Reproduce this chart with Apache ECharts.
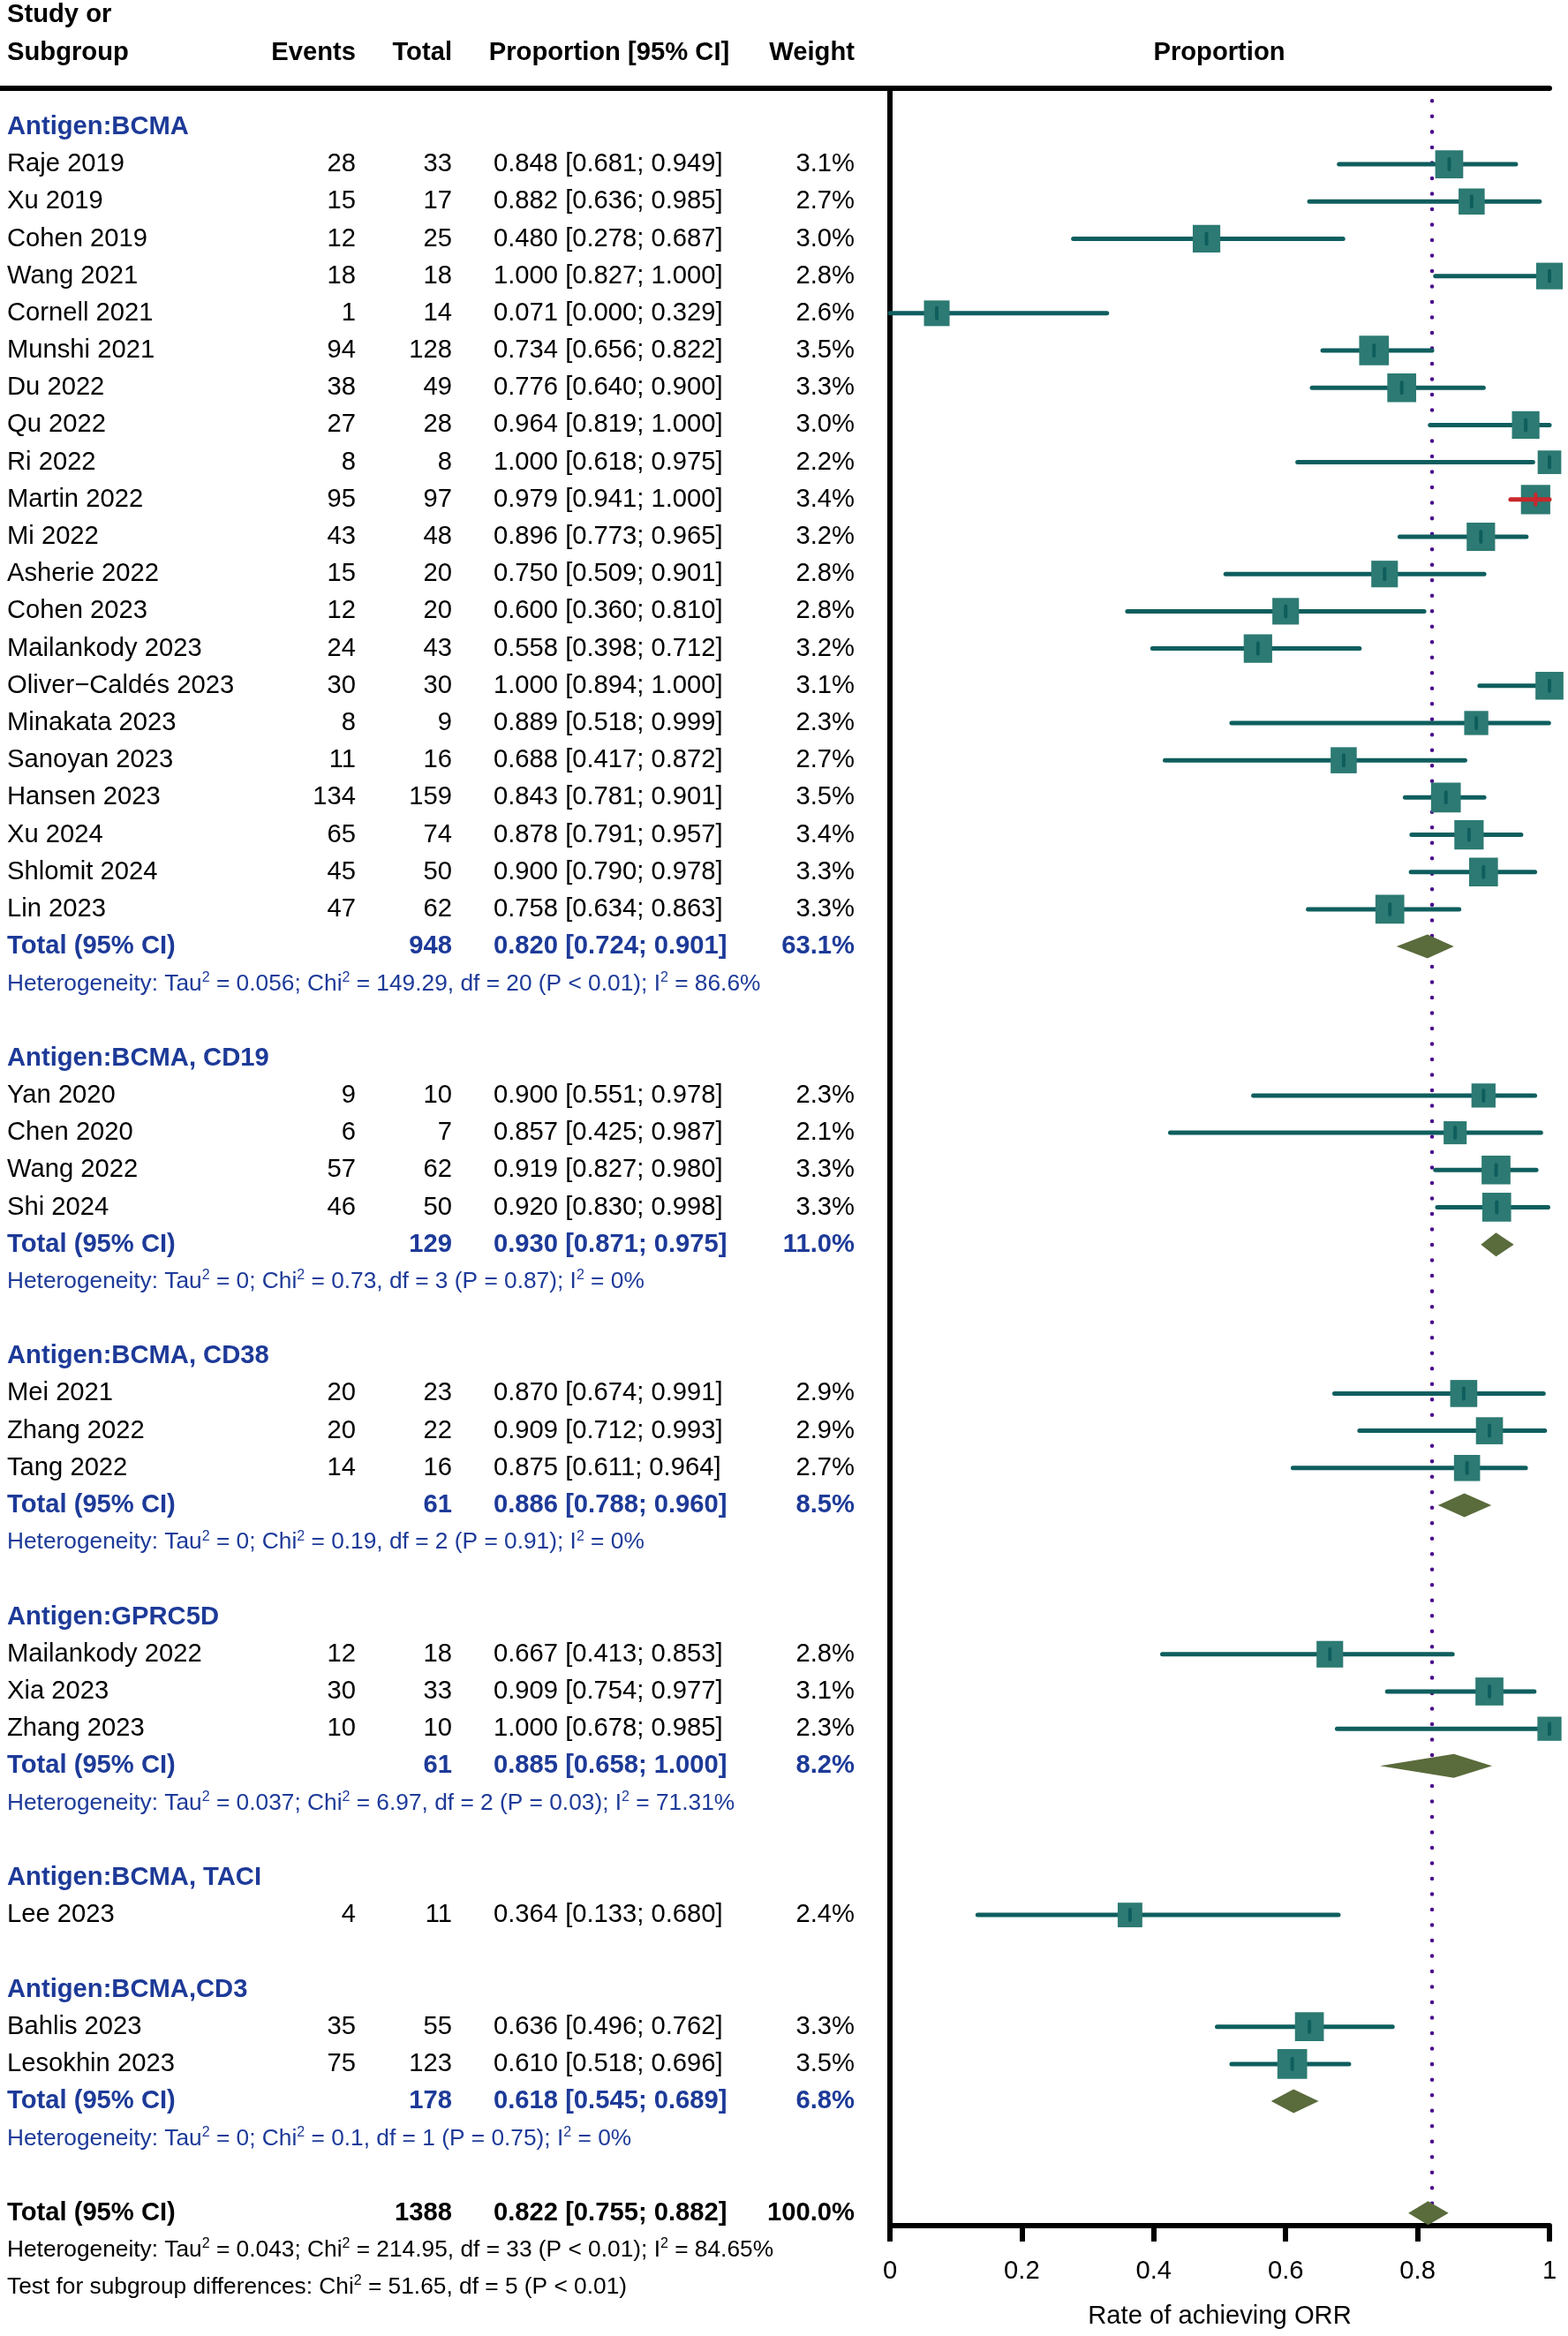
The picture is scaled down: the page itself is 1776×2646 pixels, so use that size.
<!DOCTYPE html>
<html><head><meta charset="utf-8">
<script src="https://cdn.jsdelivr.net/npm/echarts@6/dist/echarts.min.js"></script>
<style>html,body{margin:0;padding:0;background:#fff}#c{width:1776px;height:2646px}</style>
</head><body><div id="c"></div>
<script>
// ---------------- DATA ----------------
const groupNames = ['Antigen:BCMA', 'Antigen:BCMA, CD19', 'Antigen:BCMA, CD38', 'Antigen:GPRC5D', 'Antigen:BCMA, TACI', 'Antigen:BCMA,CD3'];

const studyNames = ['Raje 2019','Xu 2019','Cohen 2019','Wang 2021','Cornell 2021','Munshi 2021','Du 2022','Qu 2022','Ri 2022','Martin 2022','Mi 2022','Asherie 2022','Cohen 2023','Mailankody 2023','Oliver\u2212Caldés 2023','Minakata 2023','Sanoyan 2023','Hansen 2023','Xu 2024','Shlomit 2024','Lin 2023',
  'Yan 2020','Chen 2020','Wang 2022','Shi 2024',
  'Mei 2021','Zhang 2022','Tang 2022',
  'Mailankody 2022','Xia 2023','Zhang 2023',
  'Lee 2023',
  'Bahlis 2023','Lesokhin 2023'];
const studyGroup = [0,0,0,0,0,0,0,0,0,0,0,0,0,0,0,0,0,0,0,0,0, 1,1,1,1, 2,2,2, 3,3,3, 4, 5,5];
const studyEvents = [28,15,12,18,1,94,38,27,8,95,43,15,12,24,30,8,11,134,65,45,47, 9,6,57,46, 20,20,14, 12,30,10, 4, 35,75];
const studyTotal  = [33,17,25,18,14,128,49,28,8,97,48,20,20,43,30,9,16,159,74,50,62, 10,7,62,50, 23,22,16, 18,33,10, 11, 55,123];
const studyProp   = [0.848,0.882,0.480,1.000,0.071,0.734,0.776,0.964,1.000,0.979,0.896,0.750,0.600,0.558,1.000,0.889,0.688,0.843,0.878,0.900,0.758, 0.900,0.857,0.919,0.920, 0.870,0.909,0.875, 0.667,0.909,1.000, 0.364, 0.636,0.610];
const studyLower  = [0.681,0.636,0.278,0.827,0.000,0.656,0.640,0.819,0.618,0.941,0.773,0.509,0.360,0.398,0.894,0.518,0.417,0.781,0.791,0.790,0.634, 0.551,0.425,0.827,0.830, 0.674,0.712,0.611, 0.413,0.754,0.678, 0.133, 0.496,0.518];
const studyUpper  = [0.949,0.985,0.687,1.000,0.329,0.822,0.900,1.000,0.975,1.000,0.965,0.901,0.810,0.712,1.000,0.999,0.872,0.901,0.957,0.978,0.863, 0.978,0.987,0.980,0.998, 0.991,0.993,0.964, 0.853,0.977,0.985, 0.680, 0.762,0.696];
const studyWeight = [3.1,2.7,3.0,2.8,2.6,3.5,3.3,3.0,2.2,3.4,3.2,2.8,2.8,3.2,3.1,2.3,2.7,3.5,3.4,3.3,3.3, 2.3,2.1,3.3,3.3, 2.9,2.9,2.7, 2.8,3.1,2.3, 2.4, 3.3,3.5];

const groupTotalN  = [948, 129, 61, 61, null, 178];
const groupProp    = [0.820, 0.930, 0.886, 0.885, null, 0.618];
const groupLower   = [0.724, 0.871, 0.788, 0.658, null, 0.545];
const groupUpper   = [0.901, 0.975, 0.960, 1.000, null, 0.689];
const groupWeight  = [63.1, 11.0, 8.5, 8.2, null, 6.8];
// diamond extents as drawn in the figure
const diamondLow   = [0.768, 0.896, 0.831, 0.743, null, 0.578];
const diamondMid   = [0.815, 0.919, 0.871, 0.855, null, 0.612];
const diamondHigh  = [0.855, 0.946, 0.912, 0.913, null, 0.650];
const groupHet = [
  'Heterogeneity: Tau² = 0.056; Chi² = 149.29, df = 20 (P < 0.01); I² = 86.6%',
  'Heterogeneity: Tau² = 0; Chi² = 0.73, df = 3 (P = 0.87); I² = 0%',
  'Heterogeneity: Tau² = 0; Chi² = 0.19, df = 2 (P = 0.91); I² = 0%',
  'Heterogeneity: Tau² = 0.037; Chi² = 6.97, df = 2 (P = 0.03); I² = 71.31%',
  null,
  'Heterogeneity: Tau² = 0; Chi² = 0.1, df = 1 (P = 0.75); I² = 0%'
];
const overallN = 1388;
const overallProp = 0.822, overallLower = 0.755, overallUpper = 0.882, overallWeight = 100.0;
const overallDiamond = [0.786, 0.816, 0.847];
const overallHet = 'Heterogeneity: Tau² = 0.043; Chi² = 214.95, df = 33 (P < 0.01); I² = 84.65%';
const subgroupTest = 'Test for subgroup differences: Chi² = 51.65, df = 5 (P < 0.01)';
const xTicks = [0, 0.2, 0.4, 0.6, 0.8, 1];

// ---------------- STYLE ----------------
const FONT = '"Liberation Sans", Arial, Helvetica, sans-serif';
const FS = 29.2, FS_SMALL = 26.3;
const BLUE = '#1d3a98';
const LINE_COL = '#0f5e5e', SQ_COL = '#2c7a73', DIAM_COL = '#5a6b3c', REF_COL = '#4b0a8c', INSIDE_COL = '#c8282d';
const insideColoured = ['Martin 2022'];
const COL = {name: 8, events: 403, total: 512, ci: 559, ciHead: 690, weight: 968, plotHead: 1381};
const PLOT_LEFT = 1008, PLOT_W = 747, TOP = 100, AXIS_Y = 2521;
const Y_MIN = -1.04, Y_MAX = 56.34;

// ---------------- BUILD ROWS ----------------
const fmt3 = v => v.toFixed(3);
const ciText = (p, l, u) => `${fmt3(p)} [${fmt3(l)}; ${fmt3(u)}]`;
const items = [];
function add(x, row, text, align, color, bold, size) {
  items.push({x, row, text, align, color, bold: !!bold, size: size || FS});
}
add(COL.name, -3, 'Study or', 'left', '#000', true);
add(COL.name, -2, 'Subgroup', 'left', '#000', true);
add(COL.events, -2, 'Events', 'right', '#000', true);
add(COL.total, -2, 'Total', 'right', '#000', true);
add(COL.ciHead, -2, 'Proportion [95% CI]', 'center', '#000', true);
add(COL.weight, -2, 'Weight', 'right', '#000', true);
add(COL.plotHead, -2, 'Proportion', 'center', '#000', true);

const studyRow = [];
const diamondData = [];
let r = 0;
groupNames.forEach((g, gi) => {
  add(COL.name, r, g, 'left', BLUE, true); r++;
  studyNames.forEach((s, i) => {
    if (studyGroup[i] !== gi) return;
    add(COL.name, r, s, 'left', '#000');
    add(COL.events, r, String(studyEvents[i]), 'right', '#000');
    add(COL.total, r, String(studyTotal[i]), 'right', '#000');
    add(COL.ci, r, ciText(studyProp[i], studyLower[i], studyUpper[i]), 'left', '#000');
    add(COL.weight, r, studyWeight[i].toFixed(1) + '%', 'right', '#000');
    studyRow[i] = r; r++;
  });
  if (groupTotalN[gi] != null) {
    add(COL.name, r, 'Total (95% CI)', 'left', BLUE, true);
    add(COL.total, r, String(groupTotalN[gi]), 'right', BLUE, true);
    add(COL.ci, r, ciText(groupProp[gi], groupLower[gi], groupUpper[gi]), 'left', BLUE, true);
    add(COL.weight, r, groupWeight[gi].toFixed(1) + '%', 'right', BLUE, true);
    diamondData.push([diamondLow[gi], diamondMid[gi], diamondHigh[gi], r]);
    r++;
    add(COL.name, r, groupHet[gi], 'left', BLUE, false, FS_SMALL); r++;
  }
  r++;
});
add(COL.name, r, 'Total (95% CI)', 'left', '#000', true);
add(COL.total, r, String(overallN), 'right', '#000', true);
add(COL.ci, r, ciText(overallProp, overallLower, overallUpper), 'left', '#000', true);
add(COL.weight, r, overallWeight.toFixed(1) + '%', 'right', '#000', true);
diamondData.push([overallDiamond[0], overallDiamond[1], overallDiamond[2], r]);
const overallRow = r;
r++;
add(COL.name, r, overallHet, 'left', '#000', false, FS_SMALL); r++;
add(COL.name, r, subgroupTest, 'left', '#000', false, FS_SMALL);

const studyData = studyNames.map((s, i) => [studyLower[i], studyUpper[i], studyRow[i], studyProp[i], studyWeight[i]]);

function richify(text) {
  if (text.indexOf('²') < 0) return null;
  return text.split('²').map(seg => '{n|' + seg + '}').join('{s|2}');
}

// ---------------- CHART ----------------
const chart = echarts.init(document.getElementById('c'), null, {renderer: 'canvas'});
const gridH = AXIS_Y - TOP;
const blackAxis = {lineStyle: {color: '#000', width: 6, cap: 'round'}};
chart.setOption({
  animation: false,
  backgroundColor: '#fff',
  grid: [
    {left: 0, top: TOP, width: PLOT_LEFT, height: gridH},
    {left: PLOT_LEFT, top: TOP, width: PLOT_W, height: gridH}
  ],
  xAxis: [
    {gridIndex: 0, type: 'value', min: 0, max: PLOT_LEFT, position: 'top', axisLine: Object.assign({show: true, onZero: false}, blackAxis), axisTick: {show: false}, axisLabel: {show: false}, splitLine: {show: false}},
    {gridIndex: 1, type: 'value', min: xTicks[0], max: xTicks[xTicks.length - 1], interval: 0.2, position: 'bottom',
      axisLine: Object.assign({show: true, onZero: false}, blackAxis),
      axisTick: {show: true, length: 18, lineStyle: {color: '#000', width: 6}},
      axisLabel: {show: true, margin: 37, color: '#000', fontSize: FS, fontFamily: FONT},
      splitLine: {show: false},
      name: 'Rate of achieving ORR', nameLocation: 'middle', nameGap: 88,
      nameTextStyle: {color: '#000', fontSize: FS, fontFamily: FONT}},
    {gridIndex: 1, type: 'value', min: 0, max: 1, position: 'top', axisLine: Object.assign({show: true, onZero: false}, blackAxis), axisTick: {show: false}, axisLabel: {show: false}, splitLine: {show: false}}
  ],
  yAxis: [
    {gridIndex: 0, type: 'value', min: Y_MIN, max: Y_MAX, inverse: true, show: false},
    {gridIndex: 1, type: 'value', min: Y_MIN, max: Y_MAX, inverse: true, position: 'left',
      axisLine: Object.assign({show: true, onZero: false}, blackAxis), axisTick: {show: false}, axisLabel: {show: false}, splitLine: {show: false}}
  ],
  series: [
    {
      type: 'line', xAxisIndex: 1, yAxisIndex: 1, z: 1, symbol: 'none', silent: true,
      data: [[overallProp, -0.7], [overallProp, overallRow - 0.25]],
      lineStyle: {color: REF_COL, width: 4.5, type: [0.01, 17.5], cap: 'round'}
    },
    {
      type: 'custom', xAxisIndex: 1, yAxisIndex: 1, z: 3, silent: true,
      encode: {x: [0, 1, 3], y: 2},
      data: studyData,
      renderItem: (params, api) => {
        const lo = api.value(0), hi = api.value(1), row = api.value(2), est = api.value(3), w = api.value(4);
        const p1 = api.coord([lo, row]), p2 = api.coord([hi, row]), pe = api.coord([est, row]);
        const side = 18 * Math.sqrt(w);
        const inside = insideColoured.indexOf(studyNames[params.dataIndex]) >= 0;
        const col = inside ? INSIDE_COL : LINE_COL;
        const line = {type: 'line', shape: {x1: p1[0], y1: p1[1], x2: p2[0], y2: p2[1]}, style: {stroke: col, lineWidth: 5, lineCap: 'round'}};
        const sq = {type: 'rect', shape: {x: pe[0] - side / 2, y: pe[1] - side / 2, width: side, height: side}, style: {fill: SQ_COL}};
        const tick = {type: 'line', shape: {x1: pe[0], y1: pe[1] - 6, x2: pe[0], y2: pe[1] + 6}, style: {stroke: col, lineWidth: 4, lineCap: 'round'}};
        return {type: 'group', children: inside ? [sq, line, tick] : [line, sq, tick]};
      }
    },
    {
      type: 'custom', xAxisIndex: 1, yAxisIndex: 1, z: 4, silent: true,
      encode: {x: [0, 1, 2], y: 3},
      data: diamondData,
      renderItem: (params, api) => {
        const lo = api.coord([api.value(0), api.value(3)]);
        const mid = api.coord([api.value(1), api.value(3)]);
        const hi = api.coord([api.value(2), api.value(3)]);
        const h = 13.5;
        return {type: 'polygon', shape: {points: [[lo[0], lo[1]], [mid[0], mid[1] - h], [hi[0], hi[1]], [mid[0], mid[1] + h]]}, style: {fill: DIAM_COL}};
      }
    },
    {
      type: 'custom', xAxisIndex: 0, yAxisIndex: 0, z: 5, silent: true,
      data: items.map(t => [t.x, t.row]),
      renderItem: (params, api) => {
        const t = items[params.dataIndex];
        const p = api.coord([t.x, t.row]);
        const rich = richify(t.text);
        const style = {
          text: rich || t.text, fill: t.color, fontSize: t.size, fontFamily: FONT,
          fontWeight: t.bold ? 'bold' : 'normal', align: t.align, verticalAlign: 'middle'
        };
        if (rich) {
          style.rich = {
            n: {fontSize: t.size, fontFamily: FONT, fill: t.color, color: t.color, lineHeight: 30},
            s: {fontSize: 16, fontFamily: FONT, fill: t.color, color: t.color, lineHeight: 16, verticalAlign: 'top'}
          };
        }
        return {type: 'text', x: p[0], y: p[1], style: style};
      }
    }
  ]
});
</script></body></html>
